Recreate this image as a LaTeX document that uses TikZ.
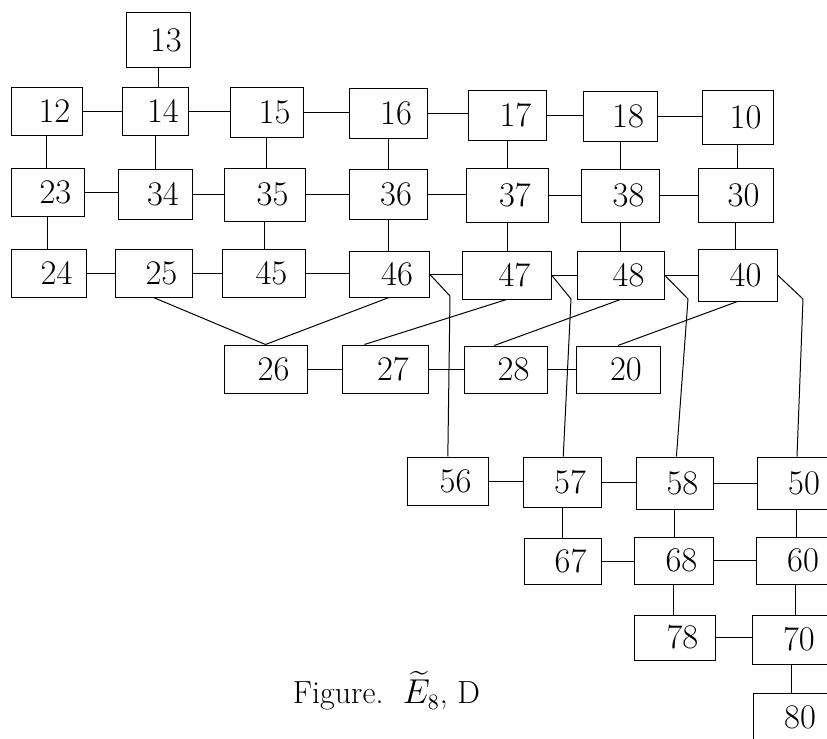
\documentclass[tikz,border=0pt]{standalone}
\usepackage{amsmath,amssymb}
\usepackage{tikz}
\usetikzlibrary{positioning}

\begin{document}
\begin{tikzpicture}[x=0.5pt,y=-0.5pt,line width=0.5pt,
  cell/.style={draw,minimum width=39pt,minimum height=25pt,inner sep=0pt,font=\LARGE,
    execute at begin node=\hspace*{8pt}}]

\useasboundingbox (0,0) rectangle (827,739);
\clip (0,0) rectangle (827,739);

% Top node
\node[cell,minimum width=32pt,minimum height=27pt] (n13) at (158,40) {13};

% First row
\node[cell,minimum width=35.5pt,minimum height=24pt] (n12) at (46.5,111) {12};
\node[cell,minimum width=33pt,minimum height=24pt] (n14) at (155,111) {14};
\node[cell,minimum width=36.5pt] (n15) at (266.5,112) {15};
\node[cell] (n16) at (388,113.5) {16};
\node[cell] (n17) at (507.5,115.5) {17};
\node[cell,minimum width=37pt] (n18) at (620,116) {18};
\node[cell,minimum width=35.5pt,minimum height=27pt] (n10) at (737.5,117) {10};

% Second row
\node[cell,minimum width=36.5pt,minimum height=24pt] (n23) at (47.5,192) {23};
\node[cell,minimum width=37pt] (n34) at (155,194) {34};
\node[cell,minimum width=40.5pt,minimum height=26.5pt] (n35) at (264.5,194.5) {35};
\node[cell] (n36) at (388,194) {36};
\node[cell,minimum width=41pt,minimum height=27pt] (n37) at (507,195) {37};
\node[cell,minimum height=26.5pt] (n38) at (620.5,195.5) {38};
\node[cell,minimum width=37.5pt,minimum height=27pt] (n30) at (735.5,195) {30};

% Third row
\node[cell,minimum width=37.5pt,minimum height=24pt] (n24) at (48.5,273) {24};
\node[cell,minimum width=38.5pt,minimum height=24pt] (n25) at (153.5,273) {25};
\node[cell,minimum width=41.5pt,minimum height=24pt] (n45) at (263.5,273) {45};
\node[cell,minimum width=40pt,minimum height=23pt] (n46) at (389,274) {46};
\node[cell,minimum width=44.5pt,minimum height=24pt] (n47) at (506.5,275) {47};
\node[cell,minimum width=43.5pt,minimum height=24pt] (n48) at (620.5,275) {48};
\node[cell,minimum width=39.5pt,minimum height=26pt] (n40) at (737.5,275) {40};

% Fourth row
\node[cell,minimum width=41.5pt,minimum height=24pt] (n26) at (265.5,369) {26};
\node[cell,minimum width=43pt,minimum height=24pt] (n27) at (385,369) {27};
\node[cell,minimum width=41.5pt,minimum height=23.5pt] (n28) at (505.5,369.5) {28};
\node[cell,minimum width=42pt,minimum height=23.5pt] (n20) at (618,369.5) {20};

% Lower block
\node[cell,minimum width=40.5pt,minimum height=24pt] (n56) at (447.5,481) {56};
\node[cell] (n57) at (562,482) {57};
\node[cell,minimum width=38.5pt,minimum height=26pt] (n58) at (674.5,483) {58};
\node[cell,minimum height=26pt] (n50) at (796,483) {50};
\node[cell,minimum width=38.5pt,minimum height=23pt] (n67) at (562.5,561) {67};
\node[cell,minimum width=39.5pt,minimum height=23.5pt] (n68) at (673.5,560.5) {68};
\node[cell,minimum height=23.5pt] (n60) at (795,560.5) {60};
\node[cell,minimum width=40.5pt,minimum height=22.5pt] (n78) at (674.5,637.5) {78};
\node[cell,minimum height=24.5pt] (n70) at (791,639.5) {70};
\node[cell,minimum height=24pt] (n80) at (792,717) {80};

% Bends of the long links
\coordinate (k46) at (450,296);
\coordinate (k47) at (571,299);
\coordinate (k48) at (688,299);
\coordinate (k40) at (803,299);

% Horizontal links
\path (n12.east) edge (n12.east -| n14.west);
\path (n14.east) edge (n14.east -| n15.west);
\path (n15.east) edge (n15.east -| n16.west);
\path (n16.east) edge (n16.east -| n17.west);
\path (n17.east) edge (n17.east -| n18.west);
\path (n18.east) edge (n18.east -| n10.west);
\path (n23.east) edge (n23.east -| n34.west);
\path (n34.east) edge (n34.east -| n35.west);
\path (n35.east) edge (n35.east -| n36.west);
\path (n36.east) edge (n36.east -| n37.west);
\path (n37.east) edge (n37.east -| n38.west);
\path (n38.east) edge (n38.east -| n30.west);
\path (n24.east) edge (n24.east -| n25.west);
\path (n25.east) edge (n25.east -| n45.west);
\path (n45.east) edge (n45.east -| n46.west);
\path (n46.east) edge (n46.east -| n47.west);
\path (n47.east) edge (n47.east -| n48.west);
\path (n48.east) edge (n48.east -| n40.west);
\path (n26.east) edge (n26.east -| n27.west);
\path (n27.east) edge (n27.east -| n28.west);
\path (n28.east) edge (n28.east -| n20.west);
\path (n56.east) edge (n56.east -| n57.west);
\path (n57.east) edge (n57.east -| n58.west);
\path (n58.east) edge (n58.east -| n50.west);
\path (n67.east) edge (n67.east -| n68.west);
\path (n68.east) edge (n68.east -| n60.west);
\path (n78.east) edge (n78.east -| n70.west);

% Vertical links
\path (n13.south) edge (n13.south |- n14.north);
\path (n12.south) edge (n12.south |- n23.north);
\path (n14.south) edge (n14.south |- n34.north);
\path (n15.south) edge (n15.south |- n35.north);
\path (n16.south) edge (n16.south |- n36.north);
\path (n17.south) edge (n17.south |- n37.north);
\path (n18.south) edge (n18.south |- n38.north);
\path (n10.south) edge (n10.south |- n30.north);
\path (n23.south) edge (n23.south |- n24.north);
\path (n35.south) edge (n35.south |- n45.north);
\path (n36.south) edge (n36.south |- n46.north);
\path (n37.south) edge (n37.south |- n47.north);
\path (n38.south) edge (n38.south |- n48.north);
\path (n30.south) edge (n30.south |- n40.north);
\path (n57.south) edge (n57.south |- n67.north);
\path (n58.south) edge (n58.south |- n68.north);
\path (n50.south) edge (n50.south |- n60.north);
\path (n68.south) edge (n68.south |- n78.north);
\path (n60.south) edge (n60.south |- n70.north);
\path (n70.south) edge (n70.south |- n80.north);

% Slanted links
\path (n25.south) edge (n26.north);
\path (n46.south) edge (n26.north);
\path (n47.south) edge (n27.130);
\path (n48.south) edge (n28.115);
\path (n40.south) edge (n20.north);

% Long links
\draw (n46.east) -- (k46) -- (n56);
\draw (n47.east) -- (k47) -- (n57);
\draw (n48.east) -- (k48) -- (n58);
\draw (n40.east) -- (k40) -- (n50);

% Caption
\node[anchor=base,font=\fontsize{16}{19}\selectfont] (cap) at (386.5,704) {Figure.\ \ $\widetilde{E}_8$, D};

\end{tikzpicture}
\end{document}
